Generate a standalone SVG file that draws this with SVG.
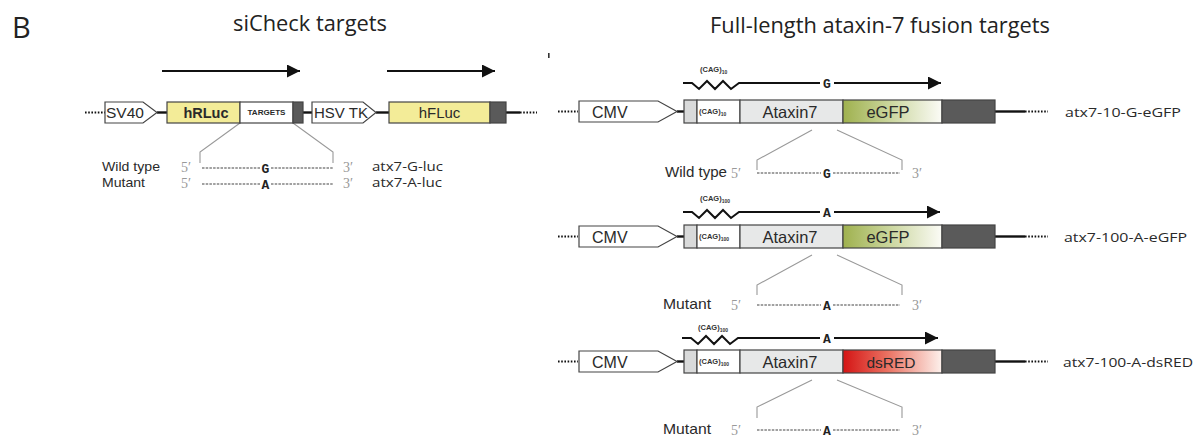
<svg xmlns="http://www.w3.org/2000/svg" width="1197" height="438" viewBox="0 0 1197 438">
<defs>
  <marker id="ah" viewBox="0 0 12 12" refX="12" refY="6" markerWidth="13" markerHeight="13" markerUnits="userSpaceOnUse" orient="auto">
    <path d="M0,0 L12,6 L0,12 z" fill="#111"/>
  </marker>
  <linearGradient id="gfp" x1="0" y1="0" x2="1" y2="0">
    <stop offset="0" stop-color="#9fb14e"/>
    <stop offset="0.5" stop-color="#cdd8a2"/>
    <stop offset="1" stop-color="#fbfbf6"/>
  </linearGradient>
  <linearGradient id="red" x1="0" y1="0" x2="1" y2="0">
    <stop offset="0" stop-color="#d41414"/>
    <stop offset="0.45" stop-color="#ea7262"/>
    <stop offset="1" stop-color="#fdf1ec"/>
  </linearGradient>
</defs>
<style>
  .box{stroke:#444;stroke-width:1.2}
  .yel{fill:#f3ec98}
  .wht{fill:#fff}
  .dk{fill:#5a5a5a}
  .lg{fill:#e7e8e8}
  .lg2{fill:#d9dada}
  .bb{stroke:#111;stroke-width:2.4;fill:none}
  .dot{stroke:#111;stroke-width:2;stroke-dasharray:1.6 1.6;fill:none}
  .arr{stroke:#111;stroke-width:2.2;fill:none;marker-end:url(#ah)}
  .zig{stroke:#111;stroke-width:2;fill:none;stroke-linejoin:miter}
  .exp{stroke:#999;stroke-width:1.1;fill:none}
  .seq{stroke:#444;stroke-width:1.2;stroke-dasharray:2.5 1.2;fill:none}
  .bl{font-family:"Liberation Sans",Arial,sans-serif;fill:#2a2a2a}
  .ttl{font-family:"Open Sans","Noto Sans",sans-serif;fill:#222}
  .lbl{font-family:"Open Sans","Noto Sans",sans-serif;fill:#2a2a2a;font-size:13.5px}
  .prime{font-family:"Liberation Serif",serif;fill:#999;font-size:14px}
  .nt{font-family:"Liberation Mono",monospace;font-weight:bold;fill:#222;font-size:13px}
  .cag{font-family:"Liberation Sans",Arial,sans-serif;font-weight:bold;fill:#333;font-size:7.5px}
  .sub{font-size:5px}
</style>

<text class="ttl" x="12" y="38" font-size="29">B</text>
<text class="ttl" x="233" y="31" font-size="21" textLength="154" lengthAdjust="spacingAndGlyphs">siCheck targets</text>
<text class="ttl" x="710" y="33" font-size="21" textLength="340" lengthAdjust="spacingAndGlyphs">Full-length ataxin-7 fusion targets</text>
<rect x="548" y="53" width="1.6" height="5" fill="#333"/>

<g id="connectors">
  <line class="dot" x1="85" y1="112.5" x2="105" y2="112.5"/>
  <line class="bb" x1="157" y1="112.5" x2="167" y2="112.5"/>
  <line class="bb" x1="303" y1="112.5" x2="312" y2="112.5"/>
  <line class="bb" x1="376" y1="112.5" x2="389" y2="112.5"/>
  <line class="bb" x1="506" y1="112.5" x2="520" y2="112.5"/>
  <line class="dot" x1="520" y1="112.5" x2="537" y2="112.5"/>
  <line class="arr" x1="162" y1="71" x2="300" y2="71"/>
  <line class="arr" x1="387" y1="71" x2="495" y2="71"/>
  <polyline class="exp" points="240,123 200,152 200,163"/>
  <polyline class="exp" points="293,123 333,152 333,163"/>
  <line class="seq" x1="202" y1="168" x2="260" y2="168"/>
  <line class="seq" x1="271" y1="168" x2="333" y2="168"/>
  <line class="seq" x1="202" y1="184" x2="260" y2="184"/>
  <line class="seq" x1="271" y1="184" x2="333" y2="184"/>

  <line class="dot" x1="558" y1="111.5" x2="578" y2="111.5"/>
  <line class="bb" x1="677" y1="111.5" x2="684" y2="111.5"/>
  <line class="bb" x1="995" y1="111.5" x2="1025" y2="111.5"/>
  <line class="dot" x1="1025" y1="111.5" x2="1048" y2="111.5"/>
  <polyline class="zig" points="683,83 692,83 699,89 707,81 715,89 723,81 731,89 739,83 820,83"/>
  <line class="arr" x1="834" y1="83" x2="941" y2="83"/>
  <polyline class="exp" points="812,130 757,160 757,170"/>
  <polyline class="exp" points="837,130 902,160 902,170"/>
  <line class="seq" x1="757" y1="173" x2="821" y2="173"/>
  <line class="seq" x1="833" y1="173" x2="900" y2="173"/>

  <line class="dot" x1="558" y1="236.5" x2="578" y2="236.5"/>
  <line class="bb" x1="677" y1="236.5" x2="684" y2="236.5"/>
  <line class="bb" x1="995" y1="236.5" x2="1025" y2="236.5"/>
  <line class="dot" x1="1025" y1="236.5" x2="1048" y2="236.5"/>
  <polyline class="zig" points="683,212 692,212 699,218 707,210 715,218 723,210 731,218 739,212 820,212"/>
  <line class="arr" x1="834" y1="212" x2="940" y2="212"/>
  <polyline class="exp" points="812,255 757,285 757,295"/>
  <polyline class="exp" points="837,255 902,285 902,295"/>
  <line class="seq" x1="757" y1="305" x2="821" y2="305"/>
  <line class="seq" x1="833" y1="305" x2="900" y2="305"/>

  <line class="dot" x1="558" y1="361.5" x2="578" y2="361.5"/>
  <line class="bb" x1="677" y1="361.5" x2="684" y2="361.5"/>
  <line class="bb" x1="995" y1="361.5" x2="1025" y2="361.5"/>
  <line class="dot" x1="1025" y1="361.5" x2="1048" y2="361.5"/>
  <polyline class="zig" points="682,338 691,338 698,344 706,336 714,344 722,336 730,344 738,338 820,338"/>
  <line class="arr" x1="834" y1="338" x2="938" y2="338"/>
  <polyline class="exp" points="812,380 757,407 757,418"/>
  <polyline class="exp" points="837,380 902,407 902,418"/>
  <line class="seq" x1="757" y1="430" x2="821" y2="430"/>
  <line class="seq" x1="833" y1="430" x2="900" y2="430"/>
</g>

<g id="sv40">
  <polygon class="box wht" points="105,102 143,102 157,112.5 143,123 105,123"/>
  <text class="bl" x="106" y="118" font-size="15.5">SV40</text>
</g>
<g id="hrluc">
  <rect class="box yel" x="167" y="102" width="73" height="21"/>
  <text class="bl" x="206" y="118" font-size="14.5" font-weight="bold" text-anchor="middle">hRLuc</text>
</g>
<g id="targets">
  <rect class="box wht" x="240" y="102" width="53" height="21"/>
  <text class="bl" x="266.5" y="115" font-size="7" font-weight="bold" text-anchor="middle" textLength="38" lengthAdjust="spacingAndGlyphs">TARGETS</text>
</g>
<g id="left-dark1"><rect class="box dk" x="293" y="102" width="10" height="21"/></g>
<g id="hsvtk">
  <polygon class="box wht" points="312,102 363,102 376,112.5 363,123 312,123"/>
  <text class="bl" x="314" y="118" font-size="15">HSV TK</text>
</g>
<g id="hfluc">
  <rect class="box yel" x="389" y="102" width="101" height="21"/>
  <text class="bl" x="439.5" y="118" font-size="15" text-anchor="middle">hFLuc</text>
</g>
<g id="left-dark2"><rect class="box dk" x="490" y="102" width="16" height="21"/></g>

<g id="left-seq">
  <text class="bl" x="102" y="171" font-size="13.5" textLength="58" lengthAdjust="spacingAndGlyphs">Wild type</text>
  <text class="bl" x="102" y="187" font-size="13.5" textLength="43" lengthAdjust="spacingAndGlyphs">Mutant</text>
  <text class="prime" x="181" y="172">5′</text>
  <text class="prime" x="181" y="188">5′</text>
  <text class="prime" x="343" y="172">3′</text>
  <text class="prime" x="343" y="188">3′</text>
  <text class="nt" x="265.5" y="172.5" text-anchor="middle">G</text>
  <text class="nt" x="265.5" y="188.5" text-anchor="middle">A</text>
  <text class="lbl" x="372" y="171" textLength="71" lengthAdjust="spacingAndGlyphs">atx7-G-luc</text>
  <text class="lbl" x="372" y="187" textLength="70" lengthAdjust="spacingAndGlyphs">atx7-A-luc</text>
</g>

<g id="row1">
  <polygon class="box wht" points="579,101 658,101 677,111.5 658,122 579,122"/>
  <text class="bl" x="592" y="117.5" font-size="16">CMV</text>
  <rect class="box lg2" x="684" y="100" width="13" height="23"/>
  <rect class="box wht" x="697" y="100" width="43" height="23"/>
  <text class="cag" x="699" y="113.5">(CAG)<tspan class="sub" dy="2">10</tspan></text>
  <rect class="box lg" x="740" y="100" width="103" height="23"/>
  <text class="bl" x="790" y="117.5" font-size="16.5" text-anchor="middle">Ataxin7</text>
  <rect class="box" fill="url(#gfp)" x="843" y="100" width="99" height="23"/>
  <text class="bl" x="888" y="117.5" font-size="16.5" text-anchor="middle">eGFP</text>
  <rect class="box dk" x="942" y="100" width="53" height="23"/>
  <text class="cag" x="700" y="72">(CAG)<tspan class="sub" dy="2">10</tspan></text>
  <text class="nt" x="827" y="87.5" text-anchor="middle" font-family="Liberation Sans">G</text>
  <text class="bl" x="665" y="177" font-size="14.5" textLength="62" lengthAdjust="spacingAndGlyphs">Wild type</text>
  <text class="prime" x="731" y="178">5′</text>
  <text class="prime" x="912" y="178">3′</text>
  <text class="nt" x="827" y="177.5" text-anchor="middle">G</text>
  <text class="lbl" x="1065" y="117" textLength="116" lengthAdjust="spacingAndGlyphs">atx7-10-G-eGFP</text>
</g>

<g id="row2">
  <polygon class="box wht" points="579,226 658,226 677,236.5 658,247 579,247"/>
  <text class="bl" x="592" y="242.5" font-size="16">CMV</text>
  <rect class="box lg2" x="684" y="225" width="13" height="23"/>
  <rect class="box wht" x="697" y="225" width="43" height="23"/>
  <text class="cag" x="699" y="238.5">(CAG)<tspan class="sub" dy="2">100</tspan></text>
  <rect class="box lg" x="740" y="225" width="103" height="23"/>
  <text class="bl" x="790" y="242.5" font-size="16.5" text-anchor="middle">Ataxin7</text>
  <rect class="box" fill="url(#gfp)" x="843" y="225" width="99" height="23"/>
  <text class="bl" x="888" y="242.5" font-size="16.5" text-anchor="middle">eGFP</text>
  <rect class="box dk" x="942" y="225" width="53" height="23"/>
  <text class="cag" x="700" y="201">(CAG)<tspan class="sub" dy="2">100</tspan></text>
  <text class="nt" x="827" y="216.5" text-anchor="middle">A</text>
  <text class="bl" x="663" y="309" font-size="15" textLength="48" lengthAdjust="spacingAndGlyphs">Mutant</text>
  <text class="prime" x="731" y="310">5′</text>
  <text class="prime" x="912" y="310">3′</text>
  <text class="nt" x="827" y="309.5" text-anchor="middle">A</text>
  <text class="lbl" x="1064" y="242" textLength="123" lengthAdjust="spacingAndGlyphs">atx7-100-A-eGFP</text>
</g>

<g id="row3">
  <polygon class="box wht" points="579,351 658,351 677,361.5 658,372 579,372"/>
  <text class="bl" x="592" y="367.5" font-size="16">CMV</text>
  <rect class="box lg2" x="684" y="350" width="13" height="23"/>
  <rect class="box wht" x="697" y="350" width="43" height="23"/>
  <text class="cag" x="699" y="363.5">(CAG)<tspan class="sub" dy="2">100</tspan></text>
  <rect class="box lg" x="740" y="350" width="103" height="23"/>
  <text class="bl" x="790" y="367.5" font-size="16.5" text-anchor="middle">Ataxin7</text>
  <rect class="box" fill="url(#red)" x="843" y="350" width="99" height="23"/>
  <text class="bl" x="891" y="367.5" font-size="15.5" text-anchor="middle">dsRED</text>
  <rect class="box dk" x="942" y="350" width="53" height="23"/>
  <text class="cag" x="698" y="330">(CAG)<tspan class="sub" dy="2">100</tspan></text>
  <text class="nt" x="827" y="342.5" text-anchor="middle">A</text>
  <text class="bl" x="663" y="434" font-size="15" textLength="48" lengthAdjust="spacingAndGlyphs">Mutant</text>
  <text class="prime" x="731" y="435">5′</text>
  <text class="prime" x="912" y="435">3′</text>
  <text class="nt" x="827" y="434.5" text-anchor="middle">A</text>
  <text class="lbl" x="1063" y="367" textLength="130" lengthAdjust="spacingAndGlyphs">atx7-100-A-dsRED</text>
</g>
</svg>
